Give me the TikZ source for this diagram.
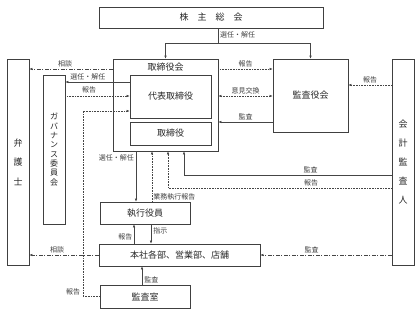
\documentclass[tikz,border=0pt]{standalone}
\usepackage{fontspec}
\usepackage{tikz}
\usetikzlibrary{arrows.meta,positioning,calc}
\newfontfamily\jpfont{Noto Sans CJK JP}
\definecolor{lineGray}{HTML}{454545}

\begin{document}
\begin{tikzpicture}[x=1pt, y=-1pt,
  every node/.style={font=\jpfont\fontsize{9}{11}\selectfont, inner sep=0pt, text=black!85},
  box/.style={draw=black!75, line width=0.6pt},
  vbox/.style={box, minimum width=22pt, align=center},
  tag/.style={font=\jpfont\fontsize{7}{8}\selectfont, text=black!75},
  line/.style={line width=0.5pt, draw=lineGray},
  arr/.style={line, -{Latex[length=3pt,width=2.4pt]}},
  dots/.style={arr, dash pattern=on 0.8pt off 0.8pt},
  chain/.style={arr, dash pattern=on 4pt off 1.5pt on 1pt off 1.5pt}
]
\useasboundingbox (0,0) rectangle (420,315);

% boxes
\node[box, minimum width=224pt, minimum height=21pt] (sh) at (211,17.5) {株　主　総　会};
\node[box, minimum width=105pt, minimum height=92pt] (bd) at (165.5,105) {};
\node[below=4.5pt of bd.north] (bdt) {取締役会};
\node[box, minimum width=81pt, minimum height=43pt] (rep) at (170.5,96.5) {代表取締役};
\node[box, minimum width=81pt, minimum height=23pt] (dir) at (170.5,133.5) {取締役};
\node[box, minimum width=75pt, minimum height=73pt] (kan) at (310.5,95.5) {監査役会};
\node[vbox, minimum height=206pt, font=\jpfont\fontsize{9}{19.2}\selectfont] (acc) at (403,162)
  {会\\計\\監\\査\\人};
\node[vbox, minimum height=206pt, font=\jpfont\fontsize{9}{19.5}\selectfont] (law) at (18,162)
  {弁\\護\\士};
\node[vbox, minimum height=149pt, font=\jpfont\fontsize{8}{9.3}\selectfont] (gov) at (54,149.5)
  {ガ\\バ\\ナ\\ン\\ス\\委\\員\\会};
\node[box, minimum width=90pt, minimum height=22pt] (exe) at (145,213) {執行役員};
\node[box, minimum width=161pt, minimum height=22pt] (dept) at (179.5,255) {本社各部、営業部、店舗};
\node[box, minimum width=90pt, minimum height=23pt] (aud) at (145,296.5) {監査室};

% shareholders
\coordinate (sp) at (218,43);
\draw[line] (sh.south -| sp) -- (sp);
\draw[arr] (sp) -| (bd.north);
\draw[arr] (sp) -| (kan.north);
\node[tag, anchor=west] at (220,34.5) {選任・解任};

% left side
\draw[chain] (bd.west |- 0,69) -- (law.east |- 0,69) node[tag, pos=0.57, above=1.5pt] {相談};
\draw[arr] (rep.west |- 0,82) -- (gov.east |- 0,82) node[tag, pos=0.65, above=1.5pt] {選任・解任};
\draw[dots] (gov.east |- 0,96) -- (rep.west |- 0,96) node[tag, pos=0.37, above=2.5pt] {報告};
\draw[dots] (aud.west) -| (83,111) -- (rep.west |- 0,111);
\node[tag] at (73,292) {報告};

% audit board
\draw[dots] (bd.east |- 0,69) -- (kan.west |- 0,69) node[tag, midway, above=1.5pt] {報告};
\draw[dots, {Latex[length=3pt,width=2.4pt]}-{Latex[length=3pt,width=2.4pt]}]
  (bd.east |- 0,96) -- (kan.west |- 0,96) node[tag, midway, above=2pt] {意見交換};
\draw[arr] (kan.west |- 0,122) -- (bd.east |- 0,122) node[tag, midway, above=2pt] {監査};
\draw[dots] (acc.west |- 0,85) -- (kan.east |- 0,85) node[tag, midway, above=1.5pt] {報告};

% accounting auditor
\draw[arr] (acc.west |- 0,175) -| (bd.south -| 184,0) node[tag, pos=0.195, above=1.5pt] {監査};
\draw[dots] (acc.west |- 0,188) -| (bd.south -| 168,0) node[tag, pos=0.18, above=1.5pt] {報告};
\draw[chain] (acc.west |- dept) -- (dept.east) node[tag, pos=0.61, above=2pt] {監査};
\draw[chain] (dept.west) -- (law.east |- dept) node[tag, pos=0.6, above=2pt] {相談};

% executives
\draw[dots] (exe.north -| 152,0) -- (bd.south -| 152,0) node[tag, pos=0.1, anchor=west, xshift=1pt] {業務執行報告};
\draw[arr] (bd.south -| 136,0) -- (exe.north -| 136,0) node[tag, pos=0.12, anchor=east, xshift=-2pt] {選任・解任};
\draw[arr] (dept.north -| 134,0) -- (exe.south -| 134,0) node[tag, pos=0.35, anchor=east, xshift=-1.5pt] {報告};
\draw[arr] (exe.south -| 151,0) -- (dept.north -| 151,0) node[tag, pos=0.35, anchor=west, xshift=2pt] {指示};
\draw[arr] (aud.north -| 142,0) -- (dept.south -| 142,0) node[tag, pos=0.26, anchor=west, xshift=2pt] {監査};
\end{tikzpicture}
\end{document}
